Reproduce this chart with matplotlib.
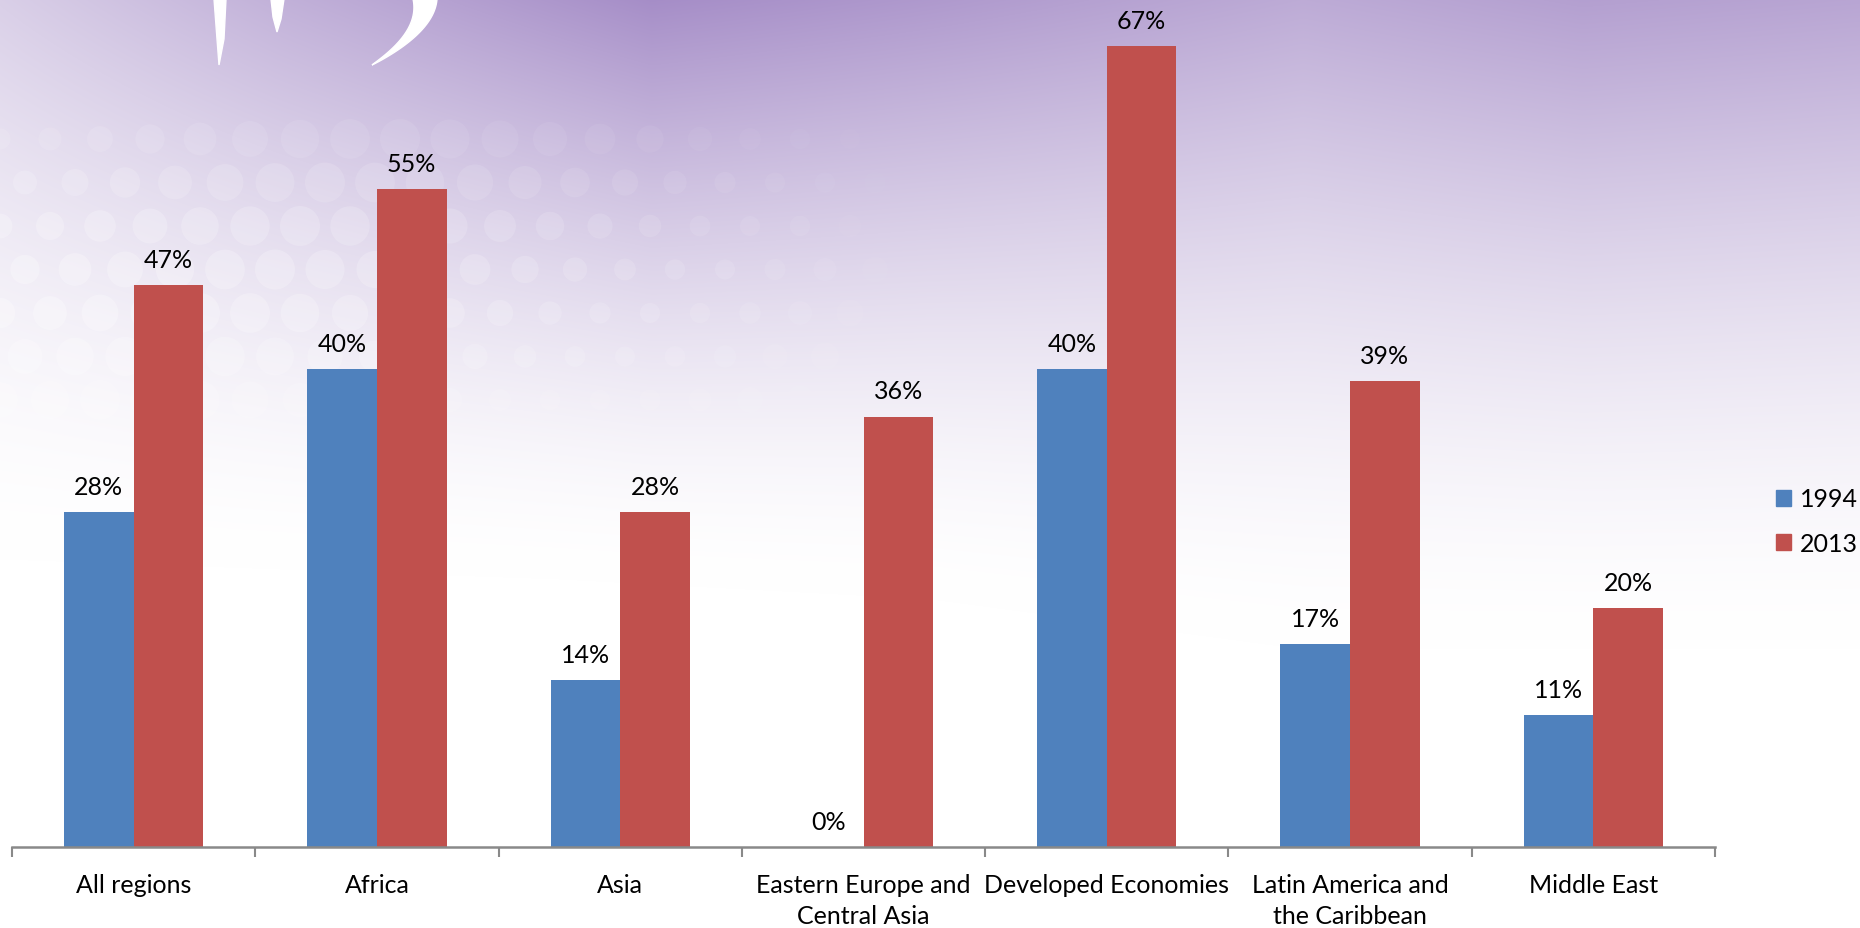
import numpy as np
import matplotlib.pyplot as plt
from matplotlib.patches import Patch, Polygon, Circle

regions = ['All regions', 'Africa', 'Asia', 'Eastern Europe and\nCentral Asia',
           'Developed Economies', 'Latin America and\nthe Caribbean', 'Middle East']
share_1994 = [28, 40, 14, 0, 40, 17, 11]
share_2013 = [47, 55, 28, 36, 67, 39, 20]
years = ['1994', '2013']
colors = ['#4F81BD', '#C0504D']

plt.rcParams['font.family'] = ['Lato', 'DejaVu Sans']
FS = 18

W, H = 1860, 929
fig = plt.figure(figsize=(W / 100, H / 100), dpi=100)

# purple wash fading down to white
bg = fig.add_axes([0, 0, 1, 1], zorder=0)
yy, xx = np.mgrid[0:H, 0:W].astype(float)
xn = xx / W
amp = np.interp(xn, [0, 0.15, 0.35, 0.5, 0.7, 0.85, 1.0],
                [0.4, 0.65, 0.95, 0.85, 0.7, 0.8, 0.75])
fade = np.interp(xn, [0, 0.3, 0.5, 0.7, 1.0], [560, 580, 600, 650, 650])
t = np.clip(1 - yy / fade, 0, 1)
inten = amp * t ** 1.6
purple = np.array([0.63, 0.53, 0.77])
img = 1 - inten[..., None] * (1 - purple)
bg.imshow(img, extent=(0, W, H, 0), aspect='auto', interpolation='bilinear')

# pale dotted pattern on the left side, strongest in the middle band
step = 50
for row, cy in enumerate(np.arange(140, 620, step * 0.87)):
    for cx in np.arange(0, 880, step) + (row % 2) * step / 2:
        band = np.exp(-((cy - 300) / 170) ** 2)
        k = band * np.clip(1 - cx / 900, 0, 1) ** 0.6
        r = 15 + 5 * np.sin(cx * 0.37 + cy * 0.21)
        bg.add_patch(Circle((cx, cy), r, color='white', alpha=0.28 * k, lw=0))

# white brush strokes in the corner
bg.add_patch(Polygon([(214, 0), (226, 0), (224, 40), (219, 66), (217, 40)],
                     closed=True, color='white'))
bg.add_patch(Polygon([(271, 0), (284, 0), (281, 20), (277, 33), (273, 18)],
                     closed=True, color='white'))
s = np.linspace(0, 1, 40)
xc = 425 + 5 * s - 58 * s ** 2
yc = 66 * s
hw = 12 * (1 - s) ** 0.8
pts = np.vstack([np.column_stack([xc + hw, yc]),
                 np.column_stack([xc - hw, yc])[::-1]])
bg.add_patch(Polygon(pts, closed=True, color='white'))
bg.set_xlim(0, W)
bg.set_ylim(H, 0)
bg.axis('off')

ax = fig.add_axes([12 / W, 1 - 848 / H, (1715 - 12) / W, (848 - 11) / H], zorder=1)
ax.patch.set_alpha(0)

x = np.arange(len(regions))
w = 0.286
b1 = ax.bar(x - w / 2, share_1994, w, color=colors[0], label=years[0])
b2 = ax.bar(x + w / 2, share_2013, w, color=colors[1], label=years[1])

for bars, vals in [(b1, share_1994), (b2, share_2013)]:
    for rect, v in zip(bars, vals):
        ax.annotate(f'{v}%', (rect.get_x() + rect.get_width() / 2, v),
                    xytext=(0, 13), textcoords='offset points',
                    ha='center', va='baseline', fontsize=FS, color='black')

ax.set_xlim(-0.5, len(regions) - 0.5)
ax.set_ylim(0, 70)
ax.set_yticks([])
ax.set_xticks(x)
ax.set_xticklabels(regions, fontsize=FS, linespacing=1.4)
ax.set_xticks(np.arange(len(regions) + 1) - 0.5, minor=True)
ax.tick_params(axis='x', which='major', length=0, pad=19)
ax.tick_params(axis='x', which='minor', length=7, width=1.5, color='#898989')
for side in ['left', 'right', 'top']:
    ax.spines[side].set_visible(False)
ax.spines['bottom'].set_color('#898989')
ax.spines['bottom'].set_linewidth(1.8)

handles = [Patch(color=c) for c in colors]
fig.legend(handles, years, loc='center left', bbox_to_anchor=(1776 / W, 1 - 522 / H),
           frameon=False, fontsize=FS, handlelength=0.6, handleheight=0.6,
           handletextpad=0.35, labelspacing=0.85, borderpad=0, borderaxespad=0)

fig.savefig('out.png', dpi=100)
